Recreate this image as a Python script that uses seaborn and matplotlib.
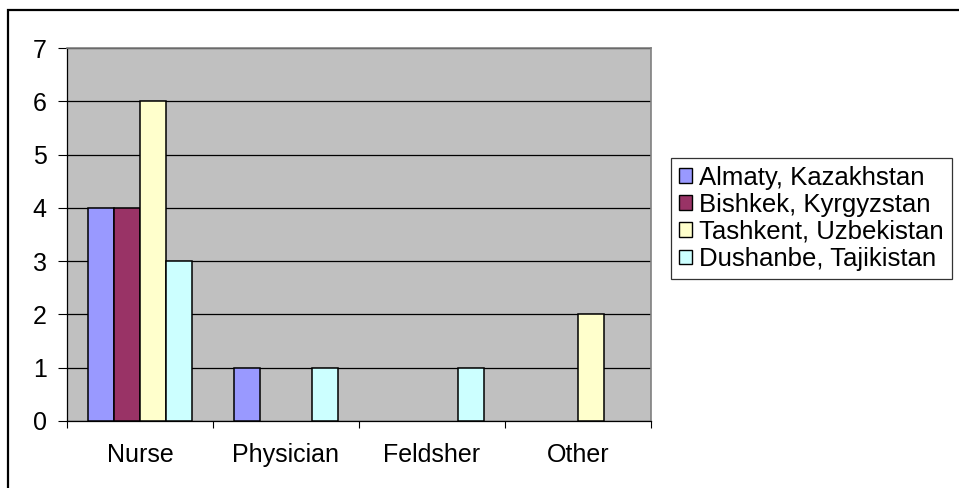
import matplotlib
matplotlib.use("Agg")
import matplotlib.pyplot as plt
import seaborn as sns
import pandas as pd
from matplotlib.patches import Rectangle
from matplotlib.ticker import FixedLocator

categories = ["Nurse", "Physician", "Feldsher", "Other"]
cities = ["Almaty, Kazakhstan", "Bishkek, Kyrgyzstan", "Tashkent, Uzbekistan", "Dushanbe, Tajikistan"]
almaty = [4, 1, 0, 0]
bishkek = [4, 0, 0, 0]
tashkent = [6, 0, 0, 2]
dushanbe = [3, 1, 1, 0]
colors = ["#9999FF", "#993366", "#FFFFCC", "#CCFFFF"]
yticks = [0, 1, 2, 3, 4, 5, 6, 7]

rows = []
for city, vals in zip(cities, [almaty, bishkek, tashkent, dushanbe]):
    for cat, v in zip(categories, vals):
        rows.append({"category": cat, "city": city, "value": v})
df = pd.DataFrame(rows)

sns.set_style("white")
plt.rcParams["font.family"] = ["Liberation Sans", "DejaVu Sans"]
plt.rcParams["text.color"] = "black"
plt.rcParams["xtick.color"] = "black"
plt.rcParams["ytick.color"] = "black"
plt.rcParams["axes.labelcolor"] = "black"
FS = 18
LFS = 18.5

W, H = 959, 488
fig = plt.figure(figsize=(W / 100, H / 100), dpi=100)
ax = fig.add_axes([67 / W, 1 - 421 / H, (651 - 67) / W, (421 - 48) / H])
ax.set_facecolor("#C0C0C0")

sns.barplot(data=df, x="category", y="value", hue="city", order=categories,
            hue_order=cities, palette=colors, edgecolor="black", linewidth=1.1,
            width=1 / 1.4, gap=0, errorbar=None, ax=ax, zorder=3, saturation=1)

ax.set_xlim(-0.5, 3.5)
ax.set_ylim(0, 7)
ax.set_yticks(yticks)
ax.set_yticklabels([str(t) for t in yticks], fontsize=FS)
ax.grid(axis="y", color="black", linewidth=0.9, zorder=1)
ax.set_axisbelow(True)
ax.set_xlabel("")
ax.set_ylabel("")
ax.tick_params(axis="y", direction="out", length=6.5, width=0.8, color="black",
               labelcolor="black", pad=8, left=True)
ax.tick_params(axis="x", which="major", length=0, pad=16, labelsize=FS, labelcolor="black")
ax.xaxis.set_minor_locator(FixedLocator([-0.5, 0.5, 1.5, 2.5, 3.5]))
ax.tick_params(axis="x", which="minor", direction="out", length=5, width=0.8, color="black", bottom=True)

for side in ["left", "bottom"]:
    ax.spines[side].set_color("black")
    ax.spines[side].set_linewidth(0.9)
for side in ["top", "right"]:
    ax.spines[side].set_color("#808080")
    ax.spines[side].set_linewidth(1.2)

leg = ax.legend(loc="upper left", bbox_to_anchor=(671 / W, 1 - 158 / H),
                bbox_transform=fig.transFigure, frameon=True, fancybox=False,
                fontsize=LFS, handlelength=0.5, handleheight=0.5, handletextpad=0.3,
                labelspacing=0.12, borderpad=0.3, borderaxespad=0, title=None)
leg.get_frame().set_edgecolor("black")
leg.get_frame().set_linewidth(0.9)
for t in leg.get_texts():
    t.set_color("black")
for h in leg.legend_handles:
    h.set_visible(True)
    h.set_edgecolor("black")
    h.set_linewidth(1.0)

# Excel draws nothing for zero-valued bars
for cont in ax.containers:
    for p in cont.patches:
        if p.get_height() == 0:
            p.set_visible(False)

fig.patches.append(Rectangle((8 / W, -0.1), 1.2, (1 - 10 / H) + 0.1, transform=fig.transFigure,
                             fill=False, edgecolor="black", linewidth=1.6, zorder=10))

fig.savefig("out.png", dpi=100)
